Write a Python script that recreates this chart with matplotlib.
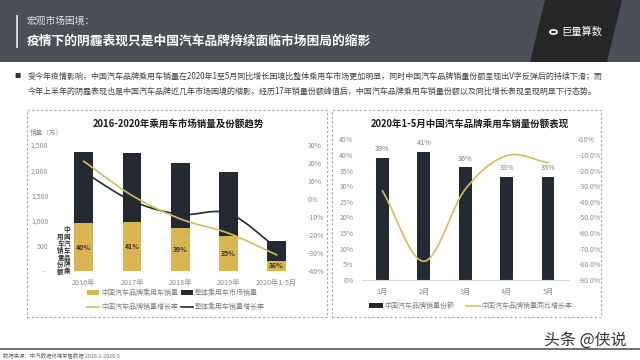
import numpy as np
import matplotlib
matplotlib.use("Agg")
import matplotlib.pyplot as plt
from matplotlib.patches import Rectangle, Polygon, Patch
from matplotlib.lines import Line2D

plt.rcParams['font.family'] = ['Noto Sans CJK SC', 'DejaVu Sans']

# ---------------- data ----------------
years = ['2016年', '2017年', '2018年', '2019年', '2020年1-5月']
total_sales = [2354, 2346, 2146, 1973, 600]
china_sales = [946, 966, 860, 686, 206]
china_share_labels = ['40%', '41%', '39%', '35%', '36%']
china_growth = [21, 2, -11, -19, -31]
total_growth = [15, -1, -8.5, -8, -27]

months = ['1月', '2月', '3月', '4月', '5月']
month_share = [39, 41, 36, 33, 33]
month_growth = [-33, -78, -32, -10.5, -15]

left_ticks = [0, 500, 1000, 1500, 2000, 2500]
left_tick_labels = ['-  ', '500', '1,000', '1,500', '2,000', '2,500']

GOLD = '#d9b451'
GOLD_LINE = '#d6bd5c'
DARK = '#232a34'
GRAY = '#8c8c8c'

W, H = 640, 360


def fx(x):
    return x / W


def fy(y):
    return 1 - y / H


def smooth(xs, ys, n=30):
    xs = np.asarray(xs, float)
    ys = np.asarray(ys, float)
    m = np.zeros_like(ys)
    m[1:-1] = (ys[2:] - ys[:-2]) / (xs[2:] - xs[:-2])
    m[0] = (ys[1] - ys[0]) / (xs[1] - xs[0])
    m[-1] = (ys[-1] - ys[-2]) / (xs[-1] - xs[-2])
    ox, oy = [], []
    for i in range(len(xs) - 1):
        h = xs[i + 1] - xs[i]
        t = np.linspace(0, 1, n, endpoint=(i == len(xs) - 2))
        h00 = (1 + 2 * t) * (1 - t) ** 2
        h10 = t * (1 - t) ** 2
        h01 = t ** 2 * (3 - 2 * t)
        h11 = t ** 2 * (t - 1)
        ox.append(xs[i] + t * h)
        oy.append(h00 * ys[i] + h10 * h * m[i] + h01 * ys[i + 1] + h11 * h * m[i + 1])
    return np.concatenate(ox), np.concatenate(oy)


fig = plt.figure(figsize=(6.4, 3.6), dpi=100)
fig.patch.set_facecolor('white')

# ---------------- header ----------------
fig.patches.append(Rectangle((0, fy(62)), 1, 62 / H, transform=fig.transFigure,
                             facecolor='#4b5058', edgecolor='none', zorder=0))
fig.patches.append(Polygon([(fx(545), fy(0)), (fx(622), fy(0)), (fx(607), fy(62)), (fx(530), fy(62))],
                           closed=True, transform=fig.transFigure, facecolor='#262627',
                           edgecolor='none', zorder=1))
fig.patches.append(Rectangle((fx(16), fy(48)), 2 / W, 33 / H, transform=fig.transFigure,
                             facecolor='#d0d0d0', edgecolor='none', zorder=2))
fig.text(fx(27), fy(20.5), '宏观市场困境：', color='#e6e6e6', fontsize=7, va='center', ha='left')
fig.text(fx(27), fy(41.5), '疫情下的阴霾表现只是中国汽车品牌持续面临市场困局的缩影', color='white',
         fontsize=9.2, fontweight='bold', va='center', ha='left')
fig.patches.append(plt.Circle((fx(553.5), fy(32)), 3.6 / W, transform=fig.transFigure,
                              facecolor='none', edgecolor='white', linewidth=1.2, zorder=3))
fig.text(fx(561), fy(32), '巨量算数', color='white', fontsize=7.4, va='center', ha='left')

# ---------------- bullet text ----------------
fig.text(fx(14), fy(76), '■', color='#333333', fontsize=4.5, va='center', ha='left')
fig.text(fx(27.5), fy(76), '受今年疫情影响，中国汽车品牌乘用车销量在2020年1至5月同比增长困境比整体乘用车市场更加明显，'
         '同时中国汽车品牌销量份额呈现出V字反弹后的持续下滑；而', color='#404040', fontsize=5.75,
         va='center', ha='left')
fig.text(fx(27.5), fy(91), '今年上半年的阴霾表现也是中国汽车品牌近几年市场困境的缩影，经历17年销量份额峰值后，'
         '中国汽车品牌乘用车销量份额以及同比增长表现呈现明显下行态势。', color='#404040', fontsize=5.75,
         va='center', ha='left')

# ---------------- dashed boxes ----------------
for (x0, y0, x1, y1) in [(26.7, 110, 326.7, 317), (332.3, 110, 600.7, 317)]:
    fig.patches.append(Rectangle((fx(x0), fy(y1)), (x1 - x0) / W, (y1 - y0) / H,
                                 transform=fig.transFigure, facecolor='none',
                                 edgecolor='#a6a6a6', linewidth=0.8, linestyle=(0, (2, 2)), zorder=1))

# ---------------- left chart ----------------
ax = fig.add_axes([fx(59.6), fy(271), (300.7 - 59.6) / W, (271 - 145) / H])
x = np.arange(len(years))
ax.bar(x, total_sales, width=0.39, color=DARK, zorder=2)
ax.bar(x, china_sales, width=0.39, color=GOLD, zorder=3)
for i, (v, lab) in enumerate(zip(china_sales, china_share_labels)):
    ax.text(i, v / 2, lab, ha='center', va='center', fontsize=5, fontweight='bold', color='#333333', zorder=4)
ax.set_xlim(-0.5, len(years) - 0.5)
ax.set_ylim(0, 2500)
ax.set_yticks(left_ticks)
ax.set_yticklabels(left_tick_labels)
ax.set_xticks(x)
ax.set_xticklabels(years)
for s in ax.spines.values():
    s.set_visible(False)
ax.tick_params(axis='both', length=0, labelsize=5, labelcolor=GRAY)
ax.tick_params(axis='y', pad=8)
ax.tick_params(axis='x', pad=6, labelsize=5.2)

ax2 = ax.twinx()
sx, sy = smooth(x, china_growth)
ax2.plot(sx, sy, color=GOLD_LINE, linewidth=1.2, zorder=5)
sx, sy = smooth(x, total_growth)
ax2.plot(sx, sy, color=DARK, linewidth=1.2, zorder=4)
ax2.set_ylim(-40, 30)
ax2.set_yticks(range(-40, 31, 10))
ax2.set_yticklabels([f'{v}%' for v in range(-40, 31, 10)])
for s in ax2.spines.values():
    s.set_visible(False)
ax2.tick_params(axis='y', length=0, labelsize=5, labelcolor=GRAY, pad=5)

fig.text(fx(178), fy(124), '2016-2020年乘用车市场销量及份额趋势', fontsize=6.8, fontweight='bold',
         color='#1a1a1a', ha='center', va='center')
fig.text(fx(30), fy(132.7), '销量（万）', fontsize=4.8, color=GRAY, ha='left', va='center')
fig.text(fx(67), fy(226), '\n'.join('中国汽车品牌乘'), fontsize=4.7, color='#333333', ha='center',
         va='top', linespacing=0.98, fontweight='bold')
fig.text(fx(60.5), fy(233), '\n'.join('用车销量份额'), fontsize=4.7, color='#333333', ha='center',
         va='top', linespacing=0.98, fontweight='bold')

h_left = [Patch(facecolor=GOLD, edgecolor='none'),
          Line2D([], [], color=GOLD_LINE, linewidth=1.2),
          Patch(facecolor=DARK, edgecolor='none'),
          Line2D([], [], color=DARK, linewidth=1.2)]
l_left = ['中国汽车品牌乘用车销量', '中国汽车品牌销量增长率', '整体乘用车市场销量', '整体乘用车销量增长率']
fig.legend(h_left, l_left, ncol=2, loc='center', bbox_to_anchor=(fx(176), fy(300)), frameon=False,
           fontsize=5, labelcolor='#7f7f7f', handlelength=1.8, handleheight=0.6, handletextpad=0.3,
           columnspacing=0.3, labelspacing=0.9, borderpad=0)

# ---------------- right chart ----------------
ax3 = fig.add_axes([fx(361.8), fy(280), (568.7 - 361.8) / W, (280 - 139.3) / H])
xm = np.arange(len(months))
ax3.bar(xm, month_share, width=0.31, color=DARK, zorder=2)
for i, v in enumerate(month_share):
    ax3.text(i, v + 2.8, f'{v}%', ha='center', va='center', fontsize=5.2, color='#808080')
ax3.set_xlim(-0.5, len(months) - 0.5)
ax3.set_ylim(0, 45)
ax3.set_yticks(range(0, 46, 5))
ax3.set_yticklabels([f'{v}%' for v in range(0, 46, 5)])
ax3.set_xticks(xm)
ax3.set_xticklabels(months)
for k, s in ax3.spines.items():
    s.set_visible(k == 'bottom')
ax3.spines['bottom'].set_color('#d9d9d9')
ax3.spines['bottom'].set_linewidth(0.8)
ax3.tick_params(axis='both', length=0, labelsize=5, labelcolor=GRAY)
ax3.tick_params(axis='y', pad=6)
ax3.tick_params(axis='x', pad=6, labelsize=5.2)

ax4 = ax3.twinx()
sx, sy = smooth(xm, month_growth)
ax4.plot(sx, sy, color=GOLD_LINE, linewidth=1.2, zorder=5)
ax4.set_ylim(-90, 0)
ax4.set_yticks(range(-90, 1, 10))
ax4.set_yticklabels([f'{v:.1f}%' for v in range(-90, 1, 10)])
for s in ax4.spines.values():
    s.set_visible(False)
ax4.tick_params(axis='y', length=0, labelsize=5, labelcolor=GRAY, pad=7)

fig.text(fx(470), fy(124), '2020年1-5月中国汽车品牌乘用车销量份额表现', fontsize=6.8, fontweight='bold',
         color='#1a1a1a', ha='center', va='center')
h_right = [Patch(facecolor=DARK, edgecolor='none'), Line2D([], [], color=GOLD_LINE, linewidth=1.2)]
l_right = ['中国汽车品牌销量份额', '中国汽车品牌销量同比增长率']
fig.legend(h_right, l_right, ncol=2, loc='center', bbox_to_anchor=(fx(471), fy(306)), frameon=False,
           fontsize=5, labelcolor='#7f7f7f', handlelength=1.9, handleheight=0.6, handletextpad=0.3,
           columnspacing=1.7, borderpad=0)

# ---------------- footer ----------------
fig.lines.append(Line2D([0, 1], [fy(348.5), fy(348.5)], transform=fig.transFigure,
                        color='#595959', linewidth=1.2))
fig.text(fx(585), fy(340.5), '头条 @侠说', fontsize=11.5, color='#333333', ha='center', va='center')
fig.text(fx(3), fy(355), '数据来源：中汽数据终端零售数据 2016.1-2020.5', fontsize=3.9, color='#666666',
         ha='left', va='center')

fig.savefig('out.png', dpi=100)
